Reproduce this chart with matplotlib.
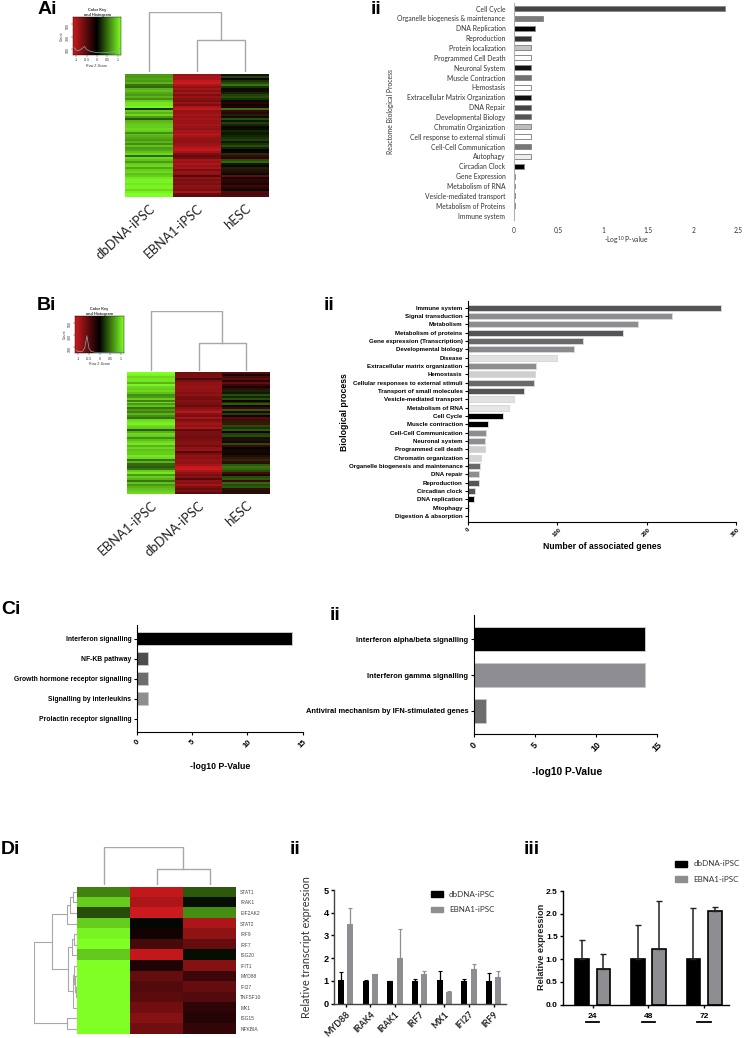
import matplotlib
matplotlib.use("Agg")
import matplotlib.pyplot as plt
import numpy as np
from matplotlib.colors import LinearSegmentedColormap
from matplotlib.patches import Patch
from matplotlib.transforms import Affine2D

W, H = 744, 1038

# --- Ai / Bi heatmaps: row z-scores
ai_columns = ["dbDNA-iPSC", "EBNA1-iPSC", "hESC"]
ai_col1 = [.6,.6,.65,.6,.7,.45,.4,.7,.75,.65,.6,.7,.55,.8,.9,.9,.95,.2,.8,.7,.85,.6,.35,.7,.75,.8,.8,.85,.8,.55,.75,.7,.65,.6,.7,.55,.75,.6,.65,.75,.85,.4,.85,.75,.6,.8,.85,.65,.8,.85,.75,.8,.9,.95,.95,.9,.95,.95,.85,.95,1,1]
ai_col2 = [-.75,-.8,-.8,-.95,-1,-.85,-.7,-.8,-.65,-.8,-.6,-.75,-.65,-.6,-.75,-.6,-.85,-.95,-.7,-.75,-.8,-.75,-.8,-.75,-.75,-.8,-.75,-.7,-.8,-.8,-.95,-.8,-.75,-.7,-.7,-.75,-.8,-.9,-.95,-.8,-.6,-.5,-.55,-.8,-.75,-.85,-.75,-.8,-.6,-.75,-.7,-.4,-.7,-.6,-.65,-.6,-.7,-.65,-.6,-.8,-.5,-.45]
ai_col3 = [.1,.25,-.1,.2,.3,.45,.2,.05,-.15,.15,.25,.3,.2,.05,-.2,-.1,-.15,.45,-.3,-.2,.15,-.15,.3,.1,.25,.15,-.1,.05,.15,.1,.1,.15,.2,.25,.1,.2,.3,.15,0,-.1,.2,-.3,-.2,.3,.4,.1,-.1,.15,-.3,.1,.05,-.5,-.1,-.25,-.2,-.15,-.3,-.2,.05,-.4,-.35,-.4]

bi_columns = ["EBNA1-iPSC", "dbDNA-iPSC", "hESC"]
bi_col1 = [1,.95,.85,.9,.9,.7,.95,.85,.8,.85,.75,.55,.6,.8,.5,.85,.6,.75,.45,.6,.5,.7,.55,.45,.85,.9,.95,.85,.8,.35,.7,.85,.8,.55,.75,.85,.9,.7,.85,.75,.8,.8,.9,.85,.45,.7,.4,.4,.35,.45,.8,.9,.6,.8,.7,.45,.75,.6,.7,.75,.8,.85]
bi_col2 = [-.55,-.6,-.6,-.35,-.6,-.7,-.7,-.75,-.7,-.7,-.65,-.7,-.6,-.55,-.65,-.6,-.6,-.5,-.65,-.75,-.9,-.65,-.6,-.8,-.6,-.7,-.8,-.7,-.85,-.45,-.6,-.6,-.55,-.55,-.6,-.65,-.65,-.55,-.7,-.75,-.4,-.6,-.7,-.65,-.75,-.7,-.7,-.8,-.95,-1,-.85,-.7,-.6,-.65,-.4,-.7,-.65,-.8,-.6,-.5,-.6,-.45]
bi_col3 = [-.4,-.1,-.35,-.45,-.2,-.5,-.3,-.1,-.3,.15,.1,.3,.15,.3,-.1,.2,.35,-.1,-.3,.35,-.2,.25,-.1,-.4,-.35,.15,-.4,.3,.2,.35,-.1,.25,.3,-.2,.1,-.15,.3,-.3,-.05,.05,-.15,-.1,.1,-.35,.2,-.3,.1,.35,.45,.4,.3,-.35,-.15,.3,.35,-.3,.4,.3,.35,-.3,.1,-.25]

# colour key histograms
key_z = [-1.1, -1.0, -0.9, -0.8, -0.7, -0.6, -0.5, -0.4, -0.2, 0, 0.2, 0.4, 0.6, 0.8, 1.0, 1.1]
ai_hist = [120, 80, 70, 85, 110, 140, 90, 70, 50, 40, 35, 40, 45, 55, 70, 110]
bi_hist = [45, 30, 25, 35, 90, 290, 80, 30, 15, 10, 10, 10, 15, 15, 30, 70]

# --- Aii
aii_labels = ["Cell Cycle", "Organelle biogenesis & maintenance", "DNA Replication", "Reproduction",
              "Protein localization", "Programmed Cell Death", "Neuronal System", "Muscle Contraction",
              "Hemostasis", "Extracellular Matrix Organization", "DNA Repair", "Developmental Biology",
              "Chromatin Organization", "Cell response to external stimuli", "Cell-Cell Communication",
              "Autophagy", "Circadian Clock", "Gene Expression", "Metabolism of RNA",
              "Vesicle-mediated transport", "Metabolism of Proteins", "Immune system"]
aii_values = [2.35, 0.33, 0.24, 0.19, 0.19, 0.19, 0.19, 0.19, 0.19, 0.19, 0.19, 0.19, 0.19, 0.19, 0.19,
              0.19, 0.11, 0.02, 0.018, 0.018, 0.018, 0.005]
aii_colors = ["#444444", "#7a7a7a", "#000000", "#333333", "#c4c4c4", "#ffffff", "#111111", "#707070",
              "#ffffff", "#111111", "#444444", "#555555", "#bdbdbd", "#ffffff", "#777777", "#eeeeee",
              "#000000", "#ffffff", "#222222", "#222222", "#222222", "#ffffff"]
aii_ticks = [0, 0.5, 1, 1.5, 2, 2.5]

# --- Bii
bii_labels = ["Immune system", "Signal transduction", "Metabolism", "Metabolism of proteins",
              "Gene expression (Transcription)", "Developmental biology", "Disease",
              "Extracellular matrix organization", "Hemostasis", "Cellular responses to external stimuli",
              "Transport of small molecules", "Vesicle-mediated transport", "Metabolism of RNA", "Cell Cycle",
              "Muscle contraction", "Cell-Cell Communication", "Neuronal system", "Programmed cell death",
              "Chromatin organization", "Organelle biogenesis and maintenance", "DNA repair", "Reproduction",
              "Circadian clock", "DNA replication", "Mitophagy", "Digestion & absorption"]
bii_values = [284, 228, 190, 173, 129, 119, 99, 76, 75, 74, 63, 51, 46, 39, 22, 20, 19, 19, 14, 13, 12, 12, 8, 6, 1, 0]
bii_colors = ["#555555", "#8e8e92", "#8e8e92", "#555555", "#6a6a6a", "#8a8a8e", "#e2e2e2", "#8e8e92",
              "#cfcfcf", "#6a6a6a", "#555555", "#e2e2e2", "#e6e6e6", "#000000", "#000000", "#8e8e92",
              "#8e8e92", "#cfcfcf", "#d5d5d5", "#6a6a6a", "#8e8e92", "#555555", "#555555", "#000000",
              "#888888", "#ffffff"]
bii_ticks = [0, 100, 200, 300]

# --- Ci / Cii
ci_labels = ["Interferon signalling", "NF-KB pathway", "Growth hormone receptor signalling",
             "Signalling by interleukins", "Prolactin receptor signalling"]
ci_values = [14, 1, 1, 1, 0]
ci_colors = ["#000000", "#4d4d4d", "#6d6d6d", "#8e8e92", "#ffffff"]
cii_labels = ["Interferon alpha/beta signalling", "Interferon gamma signalling",
              "Antiviral mechanism by IFN-stimulated genes"]
cii_values = [14, 14, 1]
cii_colors = ["#000000", "#8e8e92", "#6d6d6d"]
c_ticks = [0, 5, 10, 15]

# --- Di
di_genes = ["STAT1", "IRAK1", "EIF2AK2", "STAT2", "IRF9", "IRF7", "ISG20", "IFIT1", "MYD88", "IFI27",
            "TNFSF10", "MX1", "ISG15", "NFKBIA"]
di_col1 = [.5, .8, .3, .8, .95, 1, .78, 1, 1, 1, 1, 1, 1, 1]
di_col2 = [-.95, -.85, -1, .03, -.1, -.35, -.95, -.15, -.5, -.4, -.45, -.55, -.65, -.55]
di_col3 = [.35, .05, .55, -.85, -.7, -.5, .05, -.65, -.3, -.5, -.4, -.22, -.18, -.25]
# row tree as (height, child, child), leaves are row numbers
di_tree = (42.7,
           (25, (10.3, (7, (4.3, 0, 1), 2), 3),
            (9, (5.3, (3, 4, 5), 6), (4, (2.8, 7, (1.8, 8, (1, 9, 10))), 11))),
           (10.3, 12, 13))

# --- Dii
dii_genes = ["MYD88", "IRAK4", "IRAK1", "IRF7", "MX1", "IFI27", "IRF9"]
dii_db = [1.05, 1.0, 1.0, 1.0, 1.05, 1.0, 1.0]
dii_db_top = [1.4, 1.05, 1.02, 1.1, 1.42, 1.08, 1.37]
dii_eb = [3.5, 1.3, 2.03, 1.3, 0.5, 1.52, 1.18]
dii_eb_top = [4.22, 1.31, 3.3, 1.43, 0.57, 1.75, 1.42]

# --- Diii
diii_hours = ["24", "48", "72"]
diii_db = [1.0, 1.0, 1.0]
diii_db_top = [1.42, 1.75, 2.12]
diii_eb = [0.78, 1.22, 2.06]
diii_eb_top = [1.12, 2.28, 2.15]

GREY = "#8e8e92"
LINE = "#a8a8a8"
CALIBRI = ["Lato", "DejaVu Sans"]
ARIAL = ["Liberation Sans", "DejaVu Sans"]

plt.rcParams["font.family"] = ARIAL
plt.rcParams["mathtext.default"] = "regular"

rg = LinearSegmentedColormap.from_list("rg", ["#cc1a1e", "#000000", "#80ff24"])

fig = plt.figure(figsize=(W / 100, H / 100), dpi=100)
# picture pixels, y down
px = Affine2D().scale(1, -1).translate(0, H)


def box(x0, y0, x1, y1):
    return fig.add_axes([x0 / W, 1 - y1 / H, (x1 - x0) / W, (y1 - y0) / H])


def panel(text, x, y):
    fig.text(x, y, text, transform=px, fontsize=14, fontweight="bold", ha="left", va="center",
             family=ARIAL)


def heatmap(columns, rows, x0, y0, x1, y1, size):
    ax = box(x0, y0, x1, y1)
    ax.imshow(np.array(rows).T, cmap=rg, vmin=-1, vmax=1, aspect="auto", interpolation="nearest")
    ax.set_yticks([])
    ax.set_xticks(range(3))
    ax.set_xticklabels(columns, rotation=42, ha="right", va="top", rotation_mode="anchor",
                       fontsize=size, family=CALIBRI, color="#222222")
    ax.tick_params(axis="x", length=0, pad=4)
    for s in ax.spines.values():
        s.set_visible(False)
    return ax


def col_dendro(x0, y0, x1, y1, low):
    ax = box(x0, y0, x1, y1)
    ax.set_xlim(0, 3)
    ax.set_ylim(0, 1)
    ax.plot([1.5, 1.5, 2.5, 2.5], [0, low, low, 0], color=LINE, lw=1)
    ax.plot([0.5, 0.5, 2, 2], [0, 1, 1, low], color=LINE, lw=1)
    ax.axis("off")


def colour_key(x0, y0, x1, y1, hist):
    ax = box(x0, y0, x1, y1)
    ramp = np.linspace(-1, 1, 256).reshape(1, -1)
    ax.imshow(ramp, cmap=rg, vmin=-1, vmax=1, aspect="auto", extent=[-1.15, 1.15, 0, 620])
    ax.plot(key_z, hist, color="#7fb0b0", lw=0.5)
    ax.set_xticks([-1, -0.5, 0, 0.5, 1])
    ax.set_xticklabels(["-1", "-0.5", "0", "0.5", "1"])
    ax.set_yticks([100, 300, 500])
    ax.tick_params(labelsize=2.6, length=1.5, width=0.3, pad=1, colors="#333333")
    ax.tick_params(axis="y", labelrotation=90)
    ax.set_xlabel("Row Z-Score", fontsize=2.6, labelpad=1, color="#333333")
    ax.set_ylabel("Count", fontsize=2.6, labelpad=1, color="#333333")
    ax.set_title("Color Key\nand Histogram", fontsize=2.8, fontweight="bold", pad=0.5, color="#333333")
    for s in ax.spines.values():
        s.set_linewidth(0.3)


def hbars(ax, labels, values, colors, height, edge):
    y = np.arange(len(labels))
    ax.barh(y, values, height=height, color=colors, edgecolor=edge, linewidth=0.7)
    ax.set_yticks(y)
    ax.set_yticklabels(labels)
    for s in ["top", "right"]:
        ax.spines[s].set_visible(False)


def label_at(ax, xtext, xpos, ytext, ypos, **kw):
    if xtext:
        ax.set_xlabel(xtext, **kw)
        ax.xaxis.set_label_coords(xpos[0], xpos[1], transform=px)
        ax.xaxis.label.set_va("center")
    if ytext:
        ax.set_ylabel(ytext, **kw)
        ax.yaxis.set_label_coords(ypos[0], ypos[1], transform=px)
        ax.yaxis.label.set_va("center")


# Ai
panel("Ai", 38, 10)
heatmap(ai_columns, [ai_col1, ai_col2, ai_col3], 125, 74, 269, 197, 9.4)
col_dendro(125, 12, 269, 72, 0.53)
colour_key(73, 17, 121, 55, ai_hist)

# Aii
panel("ii", 371, 10)
ax = box(513.7, 3, 738, 220)
hbars(ax, aii_labels, aii_values, aii_colors, 0.5, "#8a8a8a")
ax.set_xlim(0, 2.5)
ax.set_ylim(21.45, -0.558)
ax.spines["bottom"].set_visible(False)
ax.spines["left"].set_color("#b0b0b0")
ax.set_xticks(aii_ticks)
ax.set_xticklabels(["0", "0.5", "1", "1.5", "2", "2.5"])
ax.tick_params(axis="y", length=0, pad=6, labelsize=4.9, labelcolor="#333333")
ax.tick_params(axis="x", length=0, pad=5, labelsize=4.7, labelcolor="#333333")
for t in ax.get_yticklabels() + ax.get_xticklabels():
    t.set_family(CALIBRI)
label_at(ax, "-Log$^{10}$ P-value", (626, 240), "Reactome Biological Process", (390.7, 112),
         fontsize=4.9, color="#333333", family=CALIBRI)

# Bi
panel("Bi", 37, 305)
heatmap(bi_columns, [bi_col1, bi_col2, bi_col3], 127, 372.3, 270, 493.7, 9.4)
col_dendro(127, 310.7, 270, 370.7, 0.46)
colour_key(75.3, 315.7, 123.7, 353.3, bi_hist)

# Bii
panel("ii", 324, 306)
ax = box(468.3, 301, 735.7, 521.7)
hbars(ax, bii_labels, bii_values, bii_colors, 0.72, "#d8d8d8")
ax.set_xlim(0, 300)
ax.set_ylim(25.69, -0.8)
ax.set_xticks(bii_ticks)
ax.tick_params(axis="y", length=2.5, width=0.8, pad=1.5, labelsize=4.4)
ax.tick_params(axis="x", length=2.5, width=0.8, pad=1.5, labelsize=4.2, labelrotation=45)
for t in ax.get_yticklabels() + ax.get_xticklabels():
    t.set_fontweight("bold")
label_at(ax, "Number of associated genes", (601.7, 546.7), "Biological process", (344.7, 412),
         fontsize=6.2, fontweight="bold")

# Ci
panel("Ci", 1, 610)
ax = box(137, 625, 302.7, 732.3)
hbars(ax, ci_labels, ci_values, ci_colors, 0.66, "#c8c8c8")
ax.set_xlim(0, 15)
ax.set_ylim(4.68, -0.685)
ax.set_xticks(c_ticks)
ax.tick_params(axis="y", length=2.5, width=0.8, pad=1.5, labelsize=4.9)
ax.tick_params(axis="x", length=2.5, width=0.8, pad=2, labelsize=5.6, labelrotation=45)
for t in ax.get_yticklabels() + ax.get_xticklabels():
    t.set_fontweight("bold")
label_at(ax, "-log10 P-Value", (220, 766.7), None, None, fontsize=6.3, fontweight="bold")

# Cii
panel("ii", 330, 616)
ax = box(474, 615, 657, 734)
hbars(ax, cii_labels, cii_values, cii_colors, 0.67, "#c8c8c8")
ax.set_xlim(0, 15)
ax.set_ylim(2.65, -0.68)
ax.set_xticks(c_ticks)
ax.tick_params(axis="y", length=2.5, width=0.8, pad=1.5, labelsize=5.4)
ax.tick_params(axis="x", length=2.5, width=0.8, pad=2, labelsize=6.4, labelrotation=45)
for t in ax.get_yticklabels() + ax.get_xticklabels():
    t.set_fontweight("bold")
label_at(ax, "-log10 P-Value", (566.7, 772), None, None, fontsize=7.4, fontweight="bold")

# Di
panel("Di", 1, 849)
ax = box(77, 886.7, 236, 1034)
ax.imshow(np.array([di_col1, di_col2, di_col3]).T, cmap=rg, vmin=-1, vmax=1, aspect="auto")
ax.set_xticks([])
ax.yaxis.tick_right()
ax.set_yticks(range(len(di_genes)))
ax.set_yticklabels(di_genes)
ax.tick_params(axis="y", length=0, pad=3, labelsize=3.5, labelcolor="#444444")
for s in ax.spines.values():
    s.set_visible(False)
col_dendro(77, 846.7, 236, 885, 0.42)

tree_ax = box(34, 886.7, 77, 1034)
tree_ax.set_xlim(43, 0)
tree_ax.set_ylim(len(di_genes) - 0.5, -0.5)
tree_ax.axis("off")


def draw_node(node):
    # returns (height, row position) of a node
    if not isinstance(node, tuple):
        return 0, node
    h, left, right = node
    h1, y1 = draw_node(left)
    h2, y2 = draw_node(right)
    tree_ax.plot([h1, h, h, h2], [y1, y1, y2, y2], color=LINE, lw=0.8)
    return h, (y1 + y2) / 2


draw_node(di_tree)

# Dii
panel("ii", 290, 850)
ax = box(334.3, 890, 505.7, 1003.7)
x = np.arange(len(dii_genes))
ax.bar(x - 0.19, dii_db, 0.243, color="black")
ax.bar(x + 0.19, dii_eb, 0.243, color=GREY)
ax.errorbar(x - 0.19, dii_db, yerr=[np.zeros(7), np.array(dii_db_top) - np.array(dii_db)], fmt="none",
            ecolor="black", elinewidth=0.9, capsize=1.5, capthick=0.8)
ax.errorbar(x + 0.19, dii_eb, yerr=[np.zeros(7), np.array(dii_eb_top) - np.array(dii_eb)], fmt="none",
            ecolor=GREY, elinewidth=0.9, capsize=1.5, capthick=0.8)
ax.set_xlim(-0.462, 6.49)
ax.set_ylim(0, 5)
ax.set_xticks(x)
ax.set_xticklabels(dii_genes, rotation=45, ha="right", va="top", rotation_mode="anchor", family=CALIBRI,
                   fontweight="bold", fontsize=6.4, color="#222222")
ax.set_yticks(range(6))
ax.tick_params(axis="x", length=2.5, width=1, pad=2)
ax.tick_params(axis="y", length=2.5, width=1, pad=1.5, labelsize=6.6)
for t in ax.get_yticklabels():
    t.set_fontweight("bold")
for s in ["top", "right"]:
    ax.spines[s].set_visible(False)
for s in ["left", "bottom"]:
    ax.spines[s].set_color("#444444")
    ax.spines[s].set_linewidth(1)
label_at(ax, None, None, "Relative transcript expression", (306.5, 947), fontsize=7.8, family=CALIBRI,
         color="#333333")
fig.legend(handles=[Patch(color="black", label="dbDNA-iPSC"), Patch(color=GREY, label="EBNA1-iPSC")],
           bbox_to_anchor=(430.7, 891), bbox_transform=px, loc="upper left", frameon=False,
           handlelength=1.5, handleheight=0.7, labelspacing=1.05, handletextpad=0.75, borderpad=0,
           borderaxespad=0, labelcolor="#333333", prop={"family": CALIBRI, "size": 5.8})

# Diii
panel("iii", 524, 850)
ax = box(563.3, 891, 729, 1004.7)
x = np.arange(len(diii_hours))
ax.bar(x - 0.192, diii_db, 0.245, color="black", edgecolor="black", linewidth=1.2)
ax.bar(x + 0.192, diii_eb, 0.245, color=GREY, edgecolor="black", linewidth=1.2)
ax.errorbar(x - 0.192, diii_db, yerr=[np.zeros(3), np.array(diii_db_top) - np.array(diii_db)], fmt="none",
            ecolor="#222222", elinewidth=1.1, capsize=2.2, capthick=1)
ax.errorbar(x + 0.192, diii_eb, yerr=[np.zeros(3), np.array(diii_eb_top) - np.array(diii_eb)], fmt="none",
            ecolor="#222222", elinewidth=1.1, capsize=2.2, capthick=1)
ax.set_xlim(-0.528, 2.447)
ax.set_ylim(0, 2.5)
ax.set_xticks(x)
ax.set_xticklabels(diii_hours)
ax.set_yticks([0, 0.5, 1, 1.5, 2, 2.5])
ax.set_yticklabels(["0.0", "0.5", "1.0", "1.5", "2.0", "2.5"])
ax.tick_params(axis="x", length=2.5, width=1, pad=3.5, labelsize=6)
ax.tick_params(axis="y", length=2.5, width=1, pad=1.5, labelsize=6)
for t in ax.get_yticklabels() + ax.get_xticklabels():
    t.set_fontweight("bold")
for xi in x:
    # underline below each hour label
    ax.plot([xi - 0.12, xi + 0.12], [-0.375, -0.375], color="black", lw=1.3, clip_on=False)
for s in ["top", "right"]:
    ax.spines[s].set_visible(False)
for s in ["left", "bottom"]:
    ax.spines[s].set_linewidth(1)
label_at(ax, None, None, "Relative expression", (541, 947), fontsize=6.6, fontweight="bold",
         color="#222222")
fig.legend(handles=[Patch(color="black", label="dbDNA-iPSC"), Patch(color=GREY, label="EBNA1-iPSC")],
           bbox_to_anchor=(675, 860.5), bbox_transform=px, loc="upper left", frameon=False,
           handlelength=1.5, handleheight=0.7, labelspacing=1.0, handletextpad=0.75, borderpad=0,
           borderaxespad=0, labelcolor="#333333", prop={"family": CALIBRI, "size": 5.8})

fig.savefig("out.png", dpi=100)
